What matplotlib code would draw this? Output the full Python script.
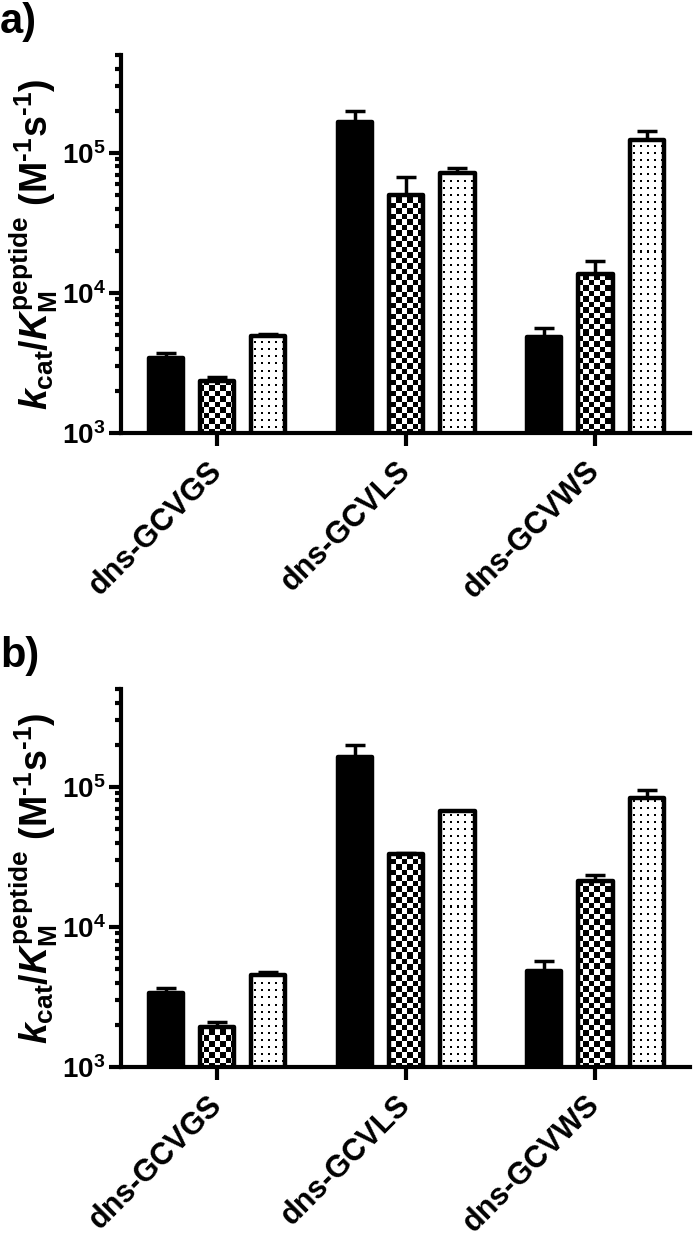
import matplotlib
matplotlib.use('Agg')
from matplotlib import pyplot as plt
from matplotlib.image import AxesImage
from matplotlib.ticker import FixedLocator, FixedFormatter, LogLocator, NullFormatter
import numpy as np

plt.rcParams['font.family'] = ['Liberation Sans', 'DejaVu Sans']
plt.rcParams['font.weight'] = 'bold'
plt.rcParams['mathtext.fontset'] = 'custom'
plt.rcParams['mathtext.rm'] = 'Liberation Sans:bold'
plt.rcParams['mathtext.it'] = 'Liberation Sans:bold:italic'
plt.rcParams['mathtext.bf'] = 'Liberation Sans:bold'

peptides = ['dns-GCVGS', 'dns-GCVLS', 'dns-GCVWS']
ytick_values = [1e3, 1e4, 1e5]
ytick_labels = ['$10^{3}$', '$10^{4}$', '$10^{5}$']

# panel a
a_solid = [3450, 167000, 4850]
a_solid_err = [250, 33000, 800]
a_checker = [2350, 50200, 13700]
a_checker_err = [180, 17600, 3100]
a_dots = [4950, 72000, 124000]
a_dots_err = [170, 5400, 20000]

# panel b
b_solid = [3380, 164000, 4850]
b_solid_err = [260, 36000, 900]
b_checker = [1940, 33200, 21300]
b_checker_err = [140, 600, 2000]
b_dots = [4560, 67500, 83700]
b_dots_err = [170, 0, 10700]

offsets = [-0.27, 0.0, 0.27]
bar_w = 0.18
lw = 3.2
base = 900


def texture(ax, kind):
    bb = ax.get_window_extent()
    w, h = int(round(bb.width)), int(round(bb.height))
    yy, xx = np.mgrid[0:h, 0:w]
    if kind == 'checker':
        s = 5.5
        dark = ((np.floor(xx / s) + np.floor(yy / s)) % 2) == 0
    else:
        dark = (xx % 7 < 2) & (yy % 7 < 2)
    img = np.where(dark, 0.0, 1.0)
    return np.dstack([img, img, img])


def draw_panel(ax, series, letter, ytop):
    x = np.arange(len(peptides))
    ax.set_yscale('log')
    ax.set_ylim(1e3, 5e5)
    ax.set_xlim(-0.51, 2.5)
    for off, (vals, errs, kind) in zip(offsets, series):
        vals = np.asarray(vals, dtype=float)
        ax.errorbar(x + off, vals, yerr=[np.zeros(len(vals)), errs], fmt='none',
                    ecolor='black', elinewidth=2.5, capsize=7, capthick=2.5, zorder=1)
        face = 'black' if kind == 'solid' else 'none'
        bars = ax.bar(x + off, vals - base, bar_w, bottom=base, facecolor=face,
                      edgecolor='black', linewidth=lw, joinstyle='round', zorder=3)
        if kind != 'solid':
            tex = texture(ax, kind)
            for b in bars:
                im = AxesImage(ax, interpolation='nearest', extent=(0, 1, 0, 1),
                               transform=ax.transAxes, zorder=2)
                im.set_data(tex)
                im.set_clip_path(b)
                ax.add_image(im)

    for side in ['top', 'right']:
        ax.spines[side].set_visible(False)
    for side in ['left', 'bottom']:
        ax.spines[side].set_linewidth(3)
        ax.spines[side].set_zorder(4)
    ax.yaxis.set_major_locator(FixedLocator(ytick_values))
    ax.yaxis.set_major_formatter(FixedFormatter(ytick_labels))
    ax.yaxis.set_minor_locator(LogLocator(base=10, subs=np.arange(2, 10)))
    ax.yaxis.set_minor_formatter(NullFormatter())
    ax.tick_params(axis='y', which='major', length=9, width=3, labelsize=20, pad=2)
    ax.tick_params(axis='y', which='minor', length=4.5, width=3)
    ax.tick_params(axis='x', which='major', length=9, width=3, pad=15)
    ax.set_xticks(x)
    ax.set_xticklabels(peptides, rotation=45, ha='right', va='center',
                       rotation_mode='anchor', fontsize=22, fontweight='bold')
    ax.set_ylabel('$k_{\\mathrm{cat}}/K_{\\mathrm{M}}^{\\mathrm{peptide}}$ '
                  '(M$^{\u20101}$s$^{\u20101}$)',
                  fontsize=27, fontweight='bold')
    ax.yaxis.set_label_coords(-0.108, 0.5)
    ax.figure.text(0.0, ytop, letter, fontsize=30, fontweight='bold', va='baseline')


fig = plt.figure(figsize=(6.93, 12.38), dpi=100)
ax_a = fig.add_axes([0.1746, 0.6502, 0.8211, 0.3054])
ax_b = fig.add_axes([0.1746, 0.1381, 0.8211, 0.3054])

draw_panel(ax_a, [(a_solid, a_solid_err, 'solid'),
                  (a_checker, a_checker_err, 'checker'),
                  (a_dots, a_dots_err, 'dots')], 'a)', 1 - 33 / 1238)
draw_panel(ax_b, [(b_solid, b_solid_err, 'solid'),
                  (b_checker, b_checker_err, 'checker'),
                  (b_dots, b_dots_err, 'dots')], 'b)', 1 - 667 / 1238)

fig.savefig('out.png', dpi=100)
